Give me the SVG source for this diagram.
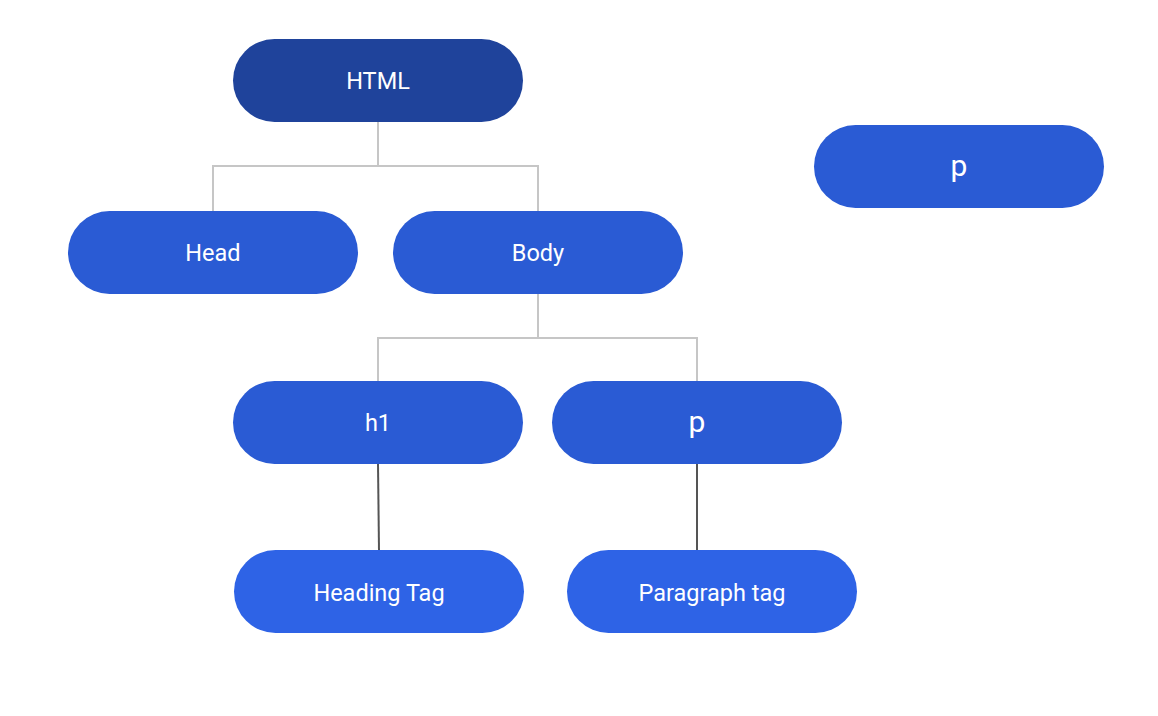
<svg xmlns="http://www.w3.org/2000/svg" width="1158" height="716" viewBox="0 0 1158 716">
<style>
.n{fill:#2a5bd4}
.d{fill:#1f439b}
.b{fill:#2e63e6}
.t{font-family:Roboto,"Liberation Sans",sans-serif;fill:#ffffff;text-anchor:middle;font-size:23.5px}
.big{font-size:30px}
.c{fill:none;stroke:#c6c6c6;stroke-width:2}
.k{fill:none;stroke:#555555;stroke-width:2}
</style>
<rect width="1158" height="716" fill="#ffffff"/>
<g id="connectors">
<path class="c" d="M378 122V166M213 211V166H538V211"/>
<path class="c" d="M538 294V338M378 381V338H697V381"/>
<path class="k" d="M378 464L379 550"/>
<path class="k" d="M697 464L697 550"/>
</g>
<g id="html"><rect class="d" x="233" y="39" width="290" height="83" rx="41.5"/><text class="t" x="378" y="89">HTML</text></g>
<g id="head"><rect class="n" x="68" y="211" width="290" height="83" rx="41.5"/><text class="t" x="213" y="261">Head</text></g>
<g id="body"><rect class="n" x="393" y="211" width="290" height="83" rx="41.5"/><text class="t" x="538" y="261">Body</text></g>
<g id="p-alone"><rect class="n" x="814" y="125" width="290" height="83" rx="41.5"/><text class="t big" x="959" y="176">p</text></g>
<g id="h1"><rect class="n" x="233" y="381" width="290" height="83" rx="41.5"/><text class="t" x="378" y="431">h1</text></g>
<g id="p"><rect class="n" x="552" y="381" width="290" height="83" rx="41.5"/><text class="t big" x="697" y="432">p</text></g>
<g id="heading-tag"><rect class="b" x="234" y="550" width="290" height="83" rx="41.5"/><text class="t" x="379" y="601">Heading Tag</text></g>
<g id="paragraph-tag"><rect class="b" x="567" y="550" width="290" height="83" rx="41.5"/><text class="t" x="712" y="601">Paragraph tag</text></g>
</svg>
